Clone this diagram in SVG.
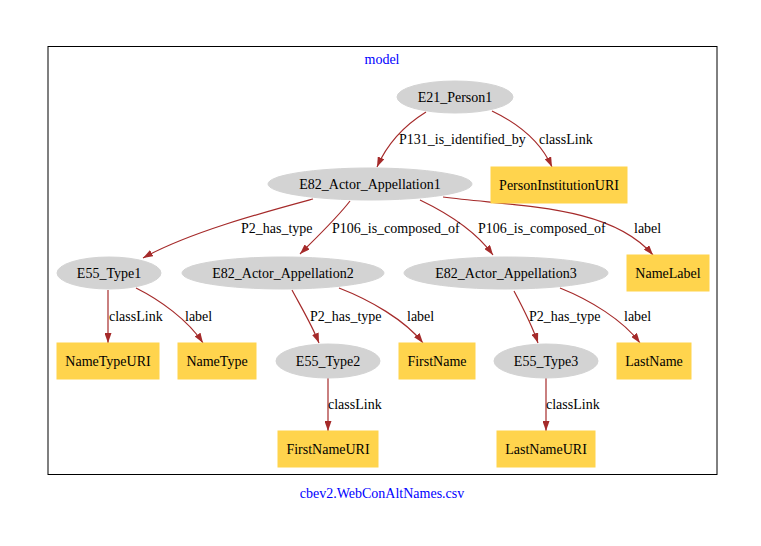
<svg xmlns="http://www.w3.org/2000/svg" width="761" height="546" viewBox="0 0 761 546">
<style>
text{font-family:"Liberation Serif","Times New Roman",serif;font-size:14px;fill:#000}
.t{text-anchor:middle}
.blue{fill:#0000ff}
.el{fill:#d3d3d3;stroke:#d3d3d3}
.bx{fill:#ffd44d;stroke:#ffd44d}
.e{fill:none;stroke:#a52a2a;stroke-width:1.2}
</style>
<defs>
<marker id="ah" viewBox="0 0 10 7" refX="10" refY="3.5" markerWidth="10" markerHeight="7" markerUnits="userSpaceOnUse" orient="auto">
<path d="M0,0 L10,3.5 L0,7 z" fill="#a52a2a"/>
</marker>
</defs>
<rect width="761" height="546" fill="#fff"/>
<rect x="48" y="46.5" width="669" height="428" fill="none" stroke="#000" stroke-width="1"/>
<text class="t blue" x="382" y="64">model</text>
<text class="t blue" x="382" y="498">cbev2.WebConAltNames.csv</text>

<g id="connectors">
<path class="e" marker-end="url(#ah)" d="M426,112 C405,125 388,142 377,167"/>
<path class="e" marker-end="url(#ah)" d="M492,111 C515,122 540,140 552,167"/>
<path class="e" marker-end="url(#ah)" d="M313,199 C265,212 190,232 143,258"/>
<path class="e" marker-end="url(#ah)" d="M350,201 C337,218 316,238 300,254"/>
<path class="e" marker-end="url(#ah)" d="M420,200 C445,212 475,230 493,255"/>
<path class="e" marker-end="url(#ah)" d="M443,197 C520,207 610,205 653,255"/>
<path class="e" marker-end="url(#ah)" d="M108,290 L108,343"/>
<path class="e" marker-end="url(#ah)" d="M136,288 C160,300 188,320 203,343"/>
<path class="e" marker-end="url(#ah)" d="M292,290 C300,305 312,325 319,343"/>
<path class="e" marker-end="url(#ah)" d="M339,288 C370,300 405,320 423,343"/>
<path class="e" marker-end="url(#ah)" d="M514,291 C522,306 532,325 538,343"/>
<path class="e" marker-end="url(#ah)" d="M560,288 C590,300 623,320 640,343"/>
<path class="e" marker-end="url(#ah)" d="M328,378 L328,431"/>
<path class="e" marker-end="url(#ah)" d="M546,378 L546,431"/>
<text x="399" y="144">P131_is_identified_by</text>
<text x="539" y="144">classLink</text>
<text x="241" y="233">P2_has_type</text>
<text x="332" y="233">P106_is_composed_of</text>
<text x="478" y="233">P106_is_composed_of</text>
<text x="634" y="233">label</text>
<text x="109" y="321">classLink</text>
<text x="185" y="321">label</text>
<text x="310" y="321">P2_has_type</text>
<text x="407" y="321">label</text>
<text x="529" y="321">P2_has_type</text>
<text x="624" y="321">label</text>
<text x="328" y="409">classLink</text>
<text x="546" y="409">classLink</text>
</g>

<g id="E21_Person1"><ellipse class="el" cx="455" cy="97" rx="58" ry="16"/><text class="t" x="455" y="102">E21_Person1</text></g>
<g id="E82_Actor_Appellation1"><ellipse class="el" cx="370" cy="184" rx="102" ry="16"/><text class="t" x="370" y="189">E82_Actor_Appellation1</text></g>
<g id="PersonInstitutionURI"><rect class="bx" x="491" y="167" width="136" height="36"/><text class="t" x="559" y="190">PersonInstitutionURI</text></g>
<g id="E55_Type1"><ellipse class="el" cx="109" cy="273" rx="52" ry="16"/><text class="t" x="109" y="278">E55_Type1</text></g>
<g id="E82_Actor_Appellation2"><ellipse class="el" cx="283" cy="273" rx="101" ry="16"/><text class="t" x="283" y="278">E82_Actor_Appellation2</text></g>
<g id="E82_Actor_Appellation3"><ellipse class="el" cx="506" cy="273" rx="102" ry="16"/><text class="t" x="506" y="278">E82_Actor_Appellation3</text></g>
<g id="NameLabel"><rect class="bx" x="627" y="255" width="82" height="36"/><text class="t" x="668" y="278">NameLabel</text></g>
<g id="NameTypeURI"><rect class="bx" x="57" y="343" width="102" height="36"/><text class="t" x="108" y="366">NameTypeURI</text></g>
<g id="NameType"><rect class="bx" x="178" y="343" width="78" height="36"/><text class="t" x="217" y="366">NameType</text></g>
<g id="E55_Type2"><ellipse class="el" cx="328" cy="361" rx="52" ry="17"/><text class="t" x="328" y="366">E55_Type2</text></g>
<g id="FirstName"><rect class="bx" x="399" y="343" width="76" height="36"/><text class="t" x="437" y="366">FirstName</text></g>
<g id="E55_Type3"><ellipse class="el" cx="546" cy="361" rx="52" ry="17"/><text class="t" x="546" y="366">E55_Type3</text></g>
<g id="LastName"><rect class="bx" x="617" y="343" width="74" height="36"/><text class="t" x="654" y="366">LastName</text></g>
<g id="FirstNameURI"><rect class="bx" x="278" y="431" width="100" height="36"/><text class="t" x="328" y="454">FirstNameURI</text></g>
<g id="LastNameURI"><rect class="bx" x="497" y="431" width="98" height="36"/><text class="t" x="546" y="454">LastNameURI</text></g>
</svg>
